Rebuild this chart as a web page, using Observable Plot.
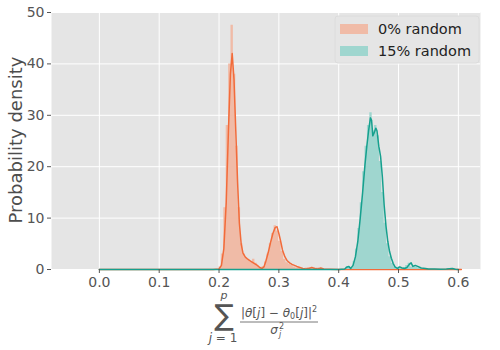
<!DOCTYPE html>
<html>
<head>
<meta charset="utf-8">
<script src="https://cdn.jsdelivr.net/npm/d3@7"></script>
<script src="https://cdn.jsdelivr.net/npm/@observablehq/plot@0.6"></script>
<style>
  html, body { margin: 0; padding: 0; background: #ffffff; }
  #chart { width: 500px; height: 350px; }
</style>
</head>
<body>
<div id="chart"></div>
<script>
// ---- data ----
const seriesNames = ["0% random", "15% random"];
const binWidth = 0.004;

const orangeBinStart = 0.200;
const orangeHist = [0.5, 3, 12, 28, 40, 47.5, 38, 24, 12, 5, 3, 2.2, 1.8, 1.4, 2.0, 1.2, 0.6, 0.3, 0.6, 1.5, 3, 5, 7, 8.5, 7.5, 5.5, 3.5, 2, 1.3, 1.0, 0.8, 0.5, 0.3, 0.2, 0.1, 0.1, 0.3, 0.4, 0.2, 0.1, 0.3, 0.3, 0.1];

const tealBinStart = 0.412;
const tealHist = [0.5, 0.5, 0.3, 1.5, 4, 8, 13, 19, 24, 28, 30.5, 27, 28, 26, 21, 15, 9, 5, 2.5, 1.2, 0.5, 0.3, 0.5, 0.2, 0.4, 0.8, 1.2, 0.5, 0.7, 0.5, 0.3, 0.2];

const orangeKdeX = [0.0, 0.19, 0.200, 0.204, 0.208, 0.212, 0.216, 0.219, 0.222, 0.225, 0.228, 0.231, 0.234, 0.237, 0.240, 0.244, 0.248, 0.252, 0.256, 0.260, 0.264, 0.268, 0.272, 0.275, 0.278, 0.282, 0.286, 0.290, 0.294, 0.297, 0.300, 0.303, 0.306, 0.310, 0.314, 0.318, 0.322, 0.326, 0.330, 0.335, 0.340, 0.345, 0.350, 0.355, 0.360, 0.365, 0.370, 0.375, 0.385, 0.40, 0.605];
const orangeKdeY = [0, 0, 0.1, 0.8, 4, 13, 28, 38, 42, 37, 27, 17, 9, 5, 3.2, 2.4, 2.0, 1.7, 1.4, 1.1, 0.8, 0.4, 0.2, 0.5, 1.5, 3.2, 5.2, 7, 8.2, 8.3, 7, 5.5, 3.8, 2.5, 1.7, 1.3, 1.0, 0.8, 0.6, 0.4, 0.2, 0.1, 0.2, 0.4, 0.2, 0.1, 0.3, 0.1, 0.05, 0, 0];

const tealKdeX = [0.0, 0.40, 0.410, 0.414, 0.417, 0.420, 0.424, 0.428, 0.432, 0.436, 0.440, 0.444, 0.447, 0.450, 0.453, 0.455, 0.457, 0.459, 0.462, 0.464, 0.467, 0.470, 0.473, 0.476, 0.479, 0.482, 0.485, 0.488, 0.491, 0.494, 0.498, 0.502, 0.506, 0.510, 0.514, 0.518, 0.521, 0.524, 0.528, 0.532, 0.538, 0.545, 0.55, 0.56, 0.57, 0.58, 0.59, 0.595, 0.6];
const tealKdeY = [0, 0, 0.1, 0.5, 0.6, 0.2, 0.8, 2.5, 5.5, 10, 15, 20.5, 24, 27, 29.5, 29, 26, 26.5, 27.5, 27, 24, 22, 18, 12.5, 8.5, 5.5, 3.5, 2.2, 1.2, 0.5, 0.2, 0.5, 0.3, 0.2, 0.4, 1.0, 1.3, 0.6, 0.8, 0.6, 0.3, 0.2, 0.1, 0.1, 0.05, 0.1, 0.2, 0.05, 0];

const xTicks = [0.0, 0.1, 0.2, 0.3, 0.4, 0.5, 0.6];
const yTicks = [0, 10, 20, 30, 40, 50];

// ---- build tables (step outlines of the histograms) ----
function stepTable(start, values) {
  const rows = values.map((v, i) => ({x: start + i * binWidth, y: v}));
  rows.push({x: start + values.length * binWidth, y: values[values.length - 1]});
  return rows;
}
const orangeBins = stepTable(orangeBinStart, orangeHist);
const tealBins = stepTable(tealBinStart, tealHist);
const orangeKde = orangeKdeX.map((x, i) => ({x, y: orangeKdeY[i]}));
const tealKde = tealKdeX.map((x, i) => ({x, y: tealKdeY[i]}));

const orangeFill = "#f0bba7", orangeLine = "#f26b3a";
const tealFill = "#9fd6cf", tealLine = "#16a08e";

const chart = Plot.plot({
  width: 500,
  height: 350,
  marginLeft: 51,
  marginRight: 20,
  marginTop: 12,
  marginBottom: 81,
  style: {fontFamily: "DejaVu Sans", background: "#ffffff"},
  x: {domain: [-0.080, 0.637]},
  y: {domain: [0, 50]},
  marks: [
    Plot.frame({fill: "#e5e5e5", stroke: null}),
    Plot.gridX(xTicks, {stroke: "#ffffff", strokeOpacity: 1, strokeWidth: 1}),
    Plot.gridY(yTicks, {stroke: "#ffffff", strokeOpacity: 1, strokeWidth: 1}),
    Plot.areaY(orangeBins, {x: "x", y: "y", fill: orangeFill, curve: "step-after"}),
    Plot.line(orangeKde, {x: "x", y: "y", stroke: orangeLine, strokeWidth: 1.5}),
    Plot.areaY(tealBins, {x: "x", y: "y", fill: tealFill, curve: "step-after"}),
    Plot.line(tealKde, {x: "x", y: "y", stroke: tealLine, strokeWidth: 1.5}),
    Plot.axisX(xTicks, {tickFormat: d => d.toFixed(1), tickSize: 4, tickPadding: 4, fontSize: 14, color: "#555555", stroke: "#555555", label: null}),
    Plot.axisY(yTicks, {tickFormat: d => String(d), tickSize: 4, tickPadding: 3, fontSize: 14, color: "#555555", stroke: "#555555", label: null})
  ]
});
document.getElementById("chart").appendChild(chart);

// ---- labels, legend ----
const svg = d3.select(chart);
svg.append("text")
  .attr("transform", "translate(22,140) rotate(-90)")
  .attr("text-anchor", "middle")
  .attr("font-family", "DejaVu Sans")
  .attr("font-size", 18)
  .attr("fill", "#4d4d4d")
  .text("Probability density");

// x-axis label formula
const fx = svg.append("g").attr("font-family", "DejaVu Sans").attr("fill", "#555555");
fx.append("text").attr("x", 224).attr("y", 299).attr("text-anchor", "middle").attr("font-size", 11).attr("font-style", "italic").text("p");
fx.append("text").attr("x", 224).attr("y", 325).attr("text-anchor", "middle").attr("font-size", 29).text("∑");
fx.append("text").attr("x", 223).attr("y", 342).attr("text-anchor", "middle").attr("font-size", 12)
  .call(t => { t.append("tspan").attr("font-style", "italic").text("j"); t.append("tspan").text(" = 1"); });
const num = fx.append("text").attr("x", 279).attr("y", 317).attr("text-anchor", "middle").attr("font-size", 12);
num.append("tspan").text("|");
num.append("tspan").attr("font-style", "italic").text("θ");
num.append("tspan").text("[");
num.append("tspan").attr("font-style", "italic").text("j");
num.append("tspan").text("] − ");
num.append("tspan").attr("font-style", "italic").text("θ");
num.append("tspan").attr("font-size", 8).attr("dy", 2).text("0");
num.append("tspan").attr("dy", -2).text("[");
num.append("tspan").attr("font-style", "italic").text("j");
num.append("tspan").text("]|");
num.append("tspan").attr("font-size", 8).attr("dy", -5).text("2");
fx.append("line").attr("x1", 240).attr("x2", 318).attr("y1", 322).attr("y2", 322).attr("stroke", "#555555").attr("stroke-width", 0.8);
fx.append("text").attr("x", 274).attr("y", 334).attr("text-anchor", "middle").attr("font-size", 12).attr("font-style", "italic").text("σ");
fx.append("text").attr("x", 279).attr("y", 329).attr("text-anchor", "start").attr("font-size", 8).text("2");
fx.append("text").attr("x", 279).attr("y", 337).attr("text-anchor", "start").attr("font-size", 8).attr("font-style", "italic").text("j");

// legend
const lg = svg.append("g").attr("font-family", "DejaVu Sans").attr("text-anchor", "start");
lg.append("rect").attr("x", 335).attr("y", 16).attr("width", 144).attr("height", 47).attr("rx", 3).attr("fill", "#e5e5e5").attr("stroke", "#dcdcdc");
const legendItems = [{name: seriesNames[0], fill: orangeFill}, {name: seriesNames[1], fill: tealFill}];
legendItems.forEach((d, i) => {
  lg.append("rect").attr("x", 340).attr("y", 24 + i * 22).attr("width", 28).attr("height", 10).attr("fill", d.fill);
  lg.append("text").attr("x", 378).attr("y", 34 + i * 22).attr("text-anchor", "start").attr("font-size", 14.5).attr("fill", "#222222").text(d.name);
});
</script>
</body>
</html>
